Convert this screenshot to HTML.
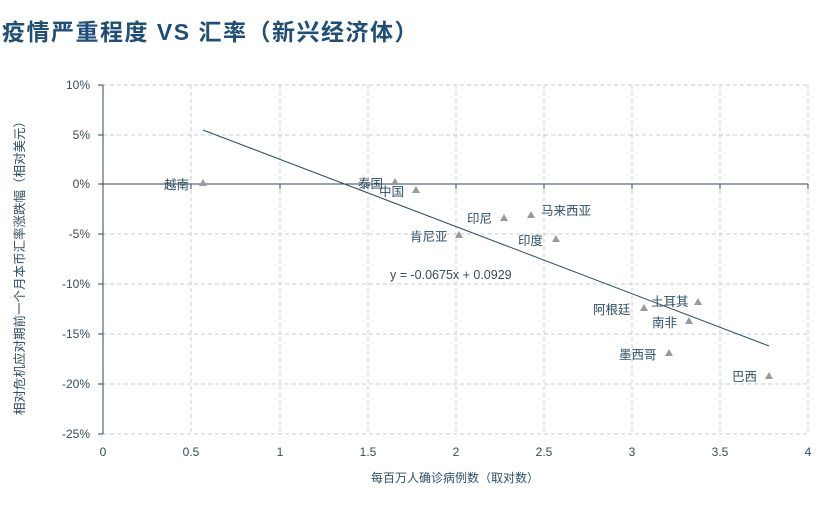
<!DOCTYPE html>
<html><head><meta charset="utf-8"><style>
body{margin:0;background:#fff;width:818px;height:512px;overflow:hidden}
svg text{font-family:"Liberation Sans","Noto Sans CJK SC",sans-serif}
</style></head><body>
<svg width="818" height="512" xmlns="http://www.w3.org/2000/svg">
<text x="2" y="40" font-size="23" font-weight="bold" fill="#1f4e79" letter-spacing="1.5">疫情严重程度 VS 汇率（新兴经济体）</text>
<g stroke="#c5ccd3" stroke-dasharray="4,3" stroke-width="1">
<line x1="103" y1="85" x2="808" y2="85"/><line x1="103" y1="135" x2="808" y2="135"/>
<line x1="103" y1="234" x2="808" y2="234"/><line x1="103" y1="284" x2="808" y2="284"/>
<line x1="103" y1="334" x2="808" y2="334"/><line x1="103" y1="384" x2="808" y2="384"/>
<line x1="103" y1="434" x2="808" y2="434"/>
<line x1="191" y1="85" x2="191" y2="434"/><line x1="280" y1="85" x2="280" y2="434"/>
<line x1="368" y1="85" x2="368" y2="434"/><line x1="456" y1="85" x2="456" y2="434"/>
<line x1="544" y1="85" x2="544" y2="434"/><line x1="632" y1="85" x2="632" y2="434"/>
<line x1="720" y1="85" x2="720" y2="434"/><line x1="808" y1="85" x2="808" y2="434"/>
</g>
<g stroke="#2c4a5a" stroke-width="1">
<line x1="103" y1="85" x2="103" y2="434"/><line x1="103" y1="184" x2="808" y2="184"/>
<line x1="98" y1="85" x2="103" y2="85"/><line x1="98" y1="135" x2="103" y2="135"/><line x1="98" y1="184" x2="103" y2="184"/><line x1="98" y1="234" x2="103" y2="234"/><line x1="98" y1="284" x2="103" y2="284"/><line x1="98" y1="334" x2="103" y2="334"/><line x1="98" y1="384" x2="103" y2="384"/><line x1="98" y1="434" x2="103" y2="434"/>
<line x1="191" y1="184" x2="191" y2="189"/><line x1="280" y1="184" x2="280" y2="189"/><line x1="368" y1="184" x2="368" y2="189"/><line x1="456" y1="184" x2="456" y2="189"/><line x1="544" y1="184" x2="544" y2="189"/><line x1="632" y1="184" x2="632" y2="189"/><line x1="720" y1="184" x2="720" y2="189"/><line x1="808" y1="184" x2="808" y2="189"/>
</g>
<g font-size="12" fill="#3a4a55" text-anchor="end">
<text x="90" y="89">10%</text><text x="90" y="139">5%</text><text x="90" y="188">0%</text><text x="90" y="238">-5%</text><text x="90" y="288">-10%</text><text x="90" y="338">-15%</text><text x="90" y="388">-20%</text><text x="90" y="438">-25%</text>
</g>
<g font-size="12" fill="#3a4a55" text-anchor="middle">
<text x="103" y="456">0</text><text x="191" y="456">0.5</text><text x="280" y="456">1</text><text x="368" y="456">1.5</text><text x="456" y="456">2</text><text x="544" y="456">2.5</text><text x="632" y="456">3</text><text x="720" y="456">3.5</text><text x="808" y="456">4</text>
</g>
<text x="455" y="482" font-size="12" fill="#2d4f66" text-anchor="middle">每百万人确诊病例数（取对数）</text>
<text transform="translate(24,265) rotate(-90)" font-size="12.5" fill="#2d4f66" text-anchor="middle">相对危机应对期前一个月本币汇率涨跌幅（相对美元）</text>
<line x1="203" y1="130" x2="769" y2="346" stroke="#2c4a5a" stroke-width="1"/>
<g fill="#9a9a9a">
<path d="M203 179l4 7h-8z"/><path d="M395 178l4 7h-8z"/><path d="M416 186l4 7h-8z"/><path d="M504 214l4 7h-8z"/><path d="M531 211l4 7h-8z"/><path d="M459 231l4 7h-8z"/><path d="M556 235l4 7h-8z"/><path d="M644 304l4 7h-8z"/><path d="M698 298l4 7h-8z"/><path d="M689 317l4 7h-8z"/><path d="M669 349l4 7h-8z"/><path d="M769 372l4 7h-8z"/>
</g>
<g font-size="12.5" fill="#2d4f66">
<text x="164" y="189">越南</text><text x="358" y="188">泰国</text><text x="379" y="196">中国</text><text x="467" y="223">印尼</text><text x="541" y="215">马来西亚</text><text x="410" y="241">肯尼亚</text><text x="518" y="245">印度</text><text x="593" y="314">阿根廷</text><text x="651" y="306">土耳其</text><text x="652" y="327">南非</text><text x="619" y="359">墨西哥</text><text x="732" y="381">巴西</text>
<text x="390" y="279" fill="#3a4a55">y = -0.0675x + 0.0929</text>
</g>
</svg>
</body></html>
